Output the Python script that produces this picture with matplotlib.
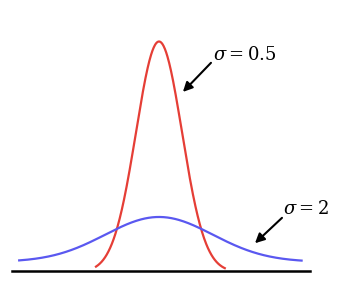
import matplotlib.pyplot as plt
import numpy as np

# curve shapes (x in widths of the red curve's sigma)
sigma_labels = ["0.5", "2"]
widths = [0.5, 1.17]
peaks = [0.8, 0.156]
offsets = [0.0, 0.035]
x_ranges = [(-1.37, 1.43), (-3.04, 3.1)]
colors = ["#e53e36", "#5a58f0"]

plt.rcParams['mathtext.fontset'] = 'dejavuserif'

fig = plt.figure(figsize=(3.41, 2.87), dpi=100)
ax = fig.add_axes([0, 0, 1, 1])

for w, p, o, (a, b), c in zip(widths, peaks, offsets, x_ranges, colors):
    x = np.linspace(a, b, 300)
    y = o + p * np.exp(-x**2 / (2 * w**2))
    ax.plot(x, y, color=c, lw=1.6)

# baseline
ax.plot([-3.2, 3.28], [0.002, 0.002], color="black", lw=1.8)

arrow = dict(arrowstyle="-|>", color="black", lw=1.5, mutation_scale=14,
             shrinkA=0, shrinkB=0)
ax.annotate("", xy=(0.52, 0.625), xytext=(1.13, 0.726), arrowprops=arrow)
ax.annotate("", xy=(2.087, 0.10), xytext=(2.674, 0.188), arrowprops=arrow)

ax.text(1.17, 0.753, "$\\sigma = " + sigma_labels[0] + "$", fontsize=13,
        va="center", ha="left")
ax.text(2.69, 0.219, "$\\sigma = " + sigma_labels[1] + "$", fontsize=13,
        va="center", ha="left")

ax.set_xlim(-3.457, 3.957)
ax.set_ylim(-0.052, 0.944)
ax.axis("off")

fig.savefig("out.png", dpi=100)
